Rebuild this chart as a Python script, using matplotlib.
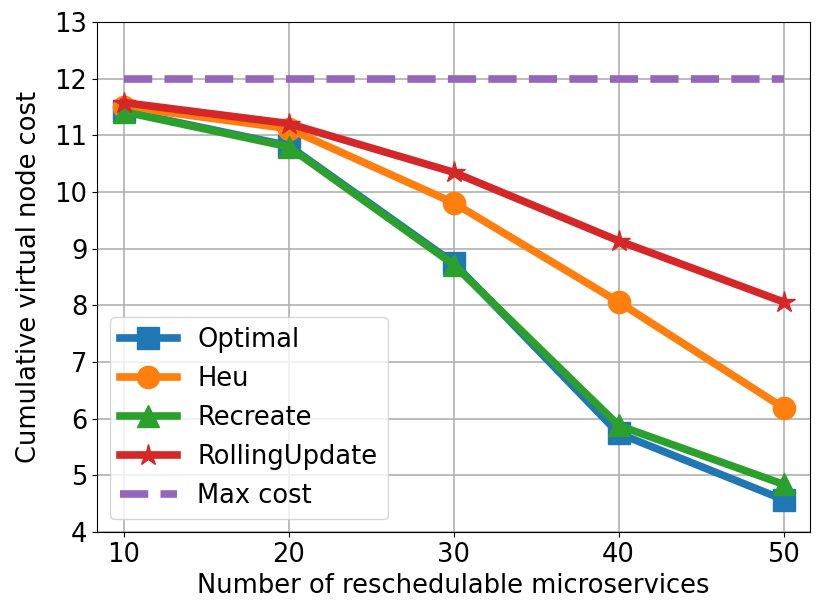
import matplotlib
matplotlib.use("Agg")
import matplotlib.pyplot as plt

x = [10, 20, 30, 40, 50]
optimal = [11.43, 10.82, 8.75, 5.74, 4.57]
heu = [11.51, 11.12, 9.81, 8.06, 6.19]
recreate = [11.42, 10.8, 8.72, 5.88, 4.84]
rolling = [11.58, 11.21, 10.35, 9.14, 8.06]
max_cost = [12, 12, 12, 12, 12]

plt.rcParams['font.size'] = 18.5
fig, ax = plt.subplots(figsize=(8.3, 6.15), dpi=100)
lw = 5.5
ms = 16
ax.plot(x, optimal, marker='s', color='#1f77b4', lw=lw, ms=ms, label='Optimal')
ax.plot(x, heu, marker='o', color='#ff7f0e', lw=lw, ms=ms, label='Heu')
ax.plot(x, recreate, marker='^', color='#2ca02c', lw=lw, ms=ms, label='Recreate')
ax.plot(x, rolling, marker='*', color='#d62728', lw=lw, ms=ms, label='RollingUpdate')
ax.plot(x, max_cost, ls='--', color='#9467bd', lw=lw, label='Max cost')

ax.set_ylim(4, 13)
ax.set_xlim(8.4, 51.6)
ax.set_xticks(x)
ax.set_yticks(range(4, 14))
ax.grid(True, color='#b0b0b0', lw=1.2)
ax.set_xlabel('Number of reschedulable microservices')
ax.set_ylabel('Cumulative virtual node cost', labelpad=9)
ax.legend(loc='lower left', handlelength=2.2)
fig.subplots_adjust(left=0.117, right=0.976, top=0.964, bottom=0.135)
fig.savefig('out.png')
